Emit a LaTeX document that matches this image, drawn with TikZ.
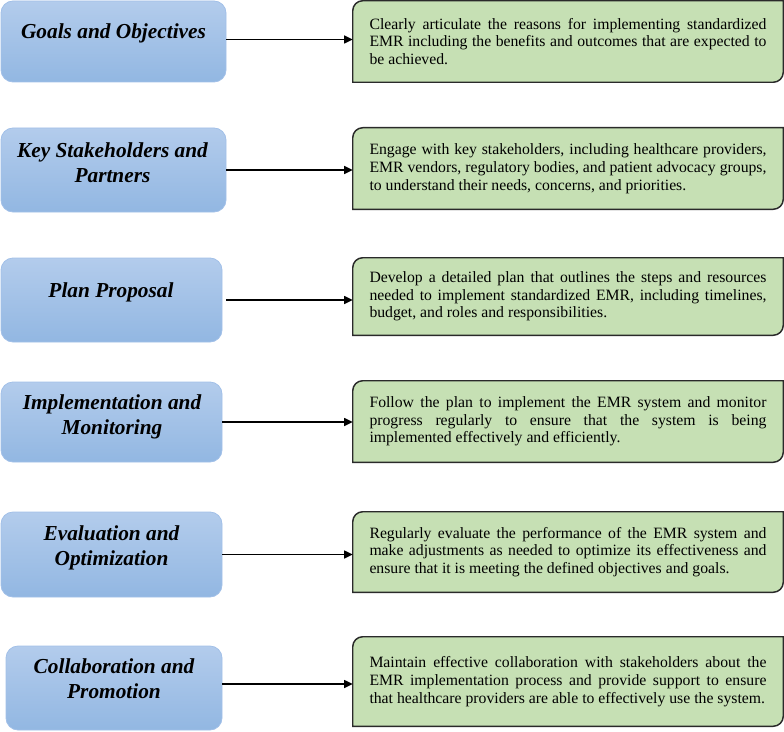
\documentclass[tikz,border=0pt]{standalone}
\usepackage{fontspec}
\setmainfont{Liberation Serif}
\usetikzlibrary{arrows.meta,calc}
\pgfdeclarelayer{background}
\pgfsetlayers{background,main}
\definecolor{ltop}{HTML}{B3CCEC}
\definecolor{lbot}{HTML}{92B7E2}
\definecolor{lborder}{HTML}{A2C0E8}
\definecolor{gfill}{HTML}{C6E0B4}
\definecolor{gborder}{HTML}{2A2A2A}
\tikzset{
  lbox/.style={rectangle, rounded corners=9pt, draw=lborder, line width=0.6pt,
    top color=ltop, bottom color=lbot, inner sep=0pt},
  ltext/.style={align=center, inner sep=0pt,
    font=\bfseries\itshape\fontsize{16}{18.75}\selectfont},
  rnode/.style={inner xsep=12.375pt, inner ysep=0pt, text width=297.75pt,
    align=justify, font=\fontsize{11.8}{13.3}\selectfont},
  rshape/.style={fill=gfill, draw=gborder, line width=1.1pt},
  arr/.style={-{Triangle[length=6.5pt,width=6pt]}, line width=1.1pt, draw=black}
}
\newcommand\greenshape[1]{%
  \begin{pgfonlayer}{background}
  \draw[rshape] ([yshift=-7.5pt]#1.north west) arc[start angle=180,end angle=90,radius=7.5pt]
     -- (#1.north east) -- ([yshift=7.5pt]#1.south east)
     arc[start angle=0,end angle=-90,radius=7.5pt] -- (#1.south west) -- cycle;
  \end{pgfonlayer}}
\begin{document}
\begin{tikzpicture}[x=0.75pt,y=-0.75pt]
\useasboundingbox (0,0) rectangle (784,731);
% left boxes
\node[lbox, minimum width=168.75pt, minimum height=60.75pt] (L1) at (113.5,41.5) {};
\node[lbox, minimum width=168.75pt, minimum height=63pt] (L2) at (113.5,170) {};
\node[lbox, minimum width=165.75pt, minimum height=63pt] (L3) at (111.5,300) {};
\node[lbox, minimum width=165.75pt, minimum height=60pt] (L4) at (111.5,422) {};
\node[lbox, minimum width=165.75pt, minimum height=63.75pt] (L5) at (111.5,554.5) {};
\node[lbox, minimum width=162pt, minimum height=63pt] (L6) at (114,688) {};
\node[ltext] (T1) at (113.5,33) {Goals and Objectives};
\node[ltext] (T2) at (112.5,163) {Key Stakeholders and\\Partners};
\node[ltext] (T3) at (111,292.5) {Plan Proposal};
\node[ltext] (T4) at (112,417) {Implementation and\\Monitoring};
\node[ltext] (T5) at (111.5,548) {Evaluation and\\Optimization};
\node[ltext] (T6) at (114,679) {Collaboration and\\Promotion};
% right boxes
\node[rnode, minimum height=60.75pt] (R1) at (568,41.5) {Clearly articulate the reasons for implementing standardized\linebreak EMR including the benefits and outcomes that are expected to\linebreak be achieved.};
\node[rnode, minimum height=60.75pt] (R2) at (568,168.5) {Engage with key stakeholders, including healthcare providers,\linebreak EMR vendors, regulatory bodies, and patient advocacy groups,\linebreak to understand their needs, concerns, and priorities.};
\node[rnode, minimum height=57.75pt] (R3) at (568,296.5) {Develop a detailed plan that outlines the steps and resources\linebreak needed to implement standardized EMR, including timelines,\linebreak budget, and roles and responsibilities.};
\node[rnode, minimum height=60.75pt] (R4) at (568,421.5) {Follow the plan to implement the EMR system and monitor\linebreak progress regularly to ensure that the system is being\linebreak implemented effectively and efficiently.};
\node[rnode, minimum height=60pt] (R5) at (568,552) {Regularly evaluate the performance of the EMR system and\linebreak make adjustments as needed to optimize its effectiveness and\linebreak ensure that it is meeting the defined objectives and goals.};
\node[rnode, minimum height=66.75pt] (R6) at (568,681.5) {Maintain effective collaboration with stakeholders about the\linebreak EMR implementation process and provide support to ensure\linebreak that healthcare providers are able to effectively use the system.};
\greenshape{R1}
\greenshape{R2}
\greenshape{R3}
\greenshape{R4}
\greenshape{R5}
\greenshape{R6}
% arrows
\draw[arr] ([yshift=1.5pt]L1.east) -- ([yshift=1.5pt]L1.east -| R1.west);
\draw[arr] (L2.east) -- (L2.east -| R2.west);
\draw[arr] ([xshift=3pt]L3.east) -- (L3.east -| R3.west);
\draw[arr] (L4.east) -- (L4.east -| R4.west);
\draw[arr] (L5.east) -- (L5.east -| R5.west);
\draw[arr] ([yshift=3pt]L6.east) -- ([yshift=3pt]L6.east -| R6.west);
\end{tikzpicture}
\end{document}
